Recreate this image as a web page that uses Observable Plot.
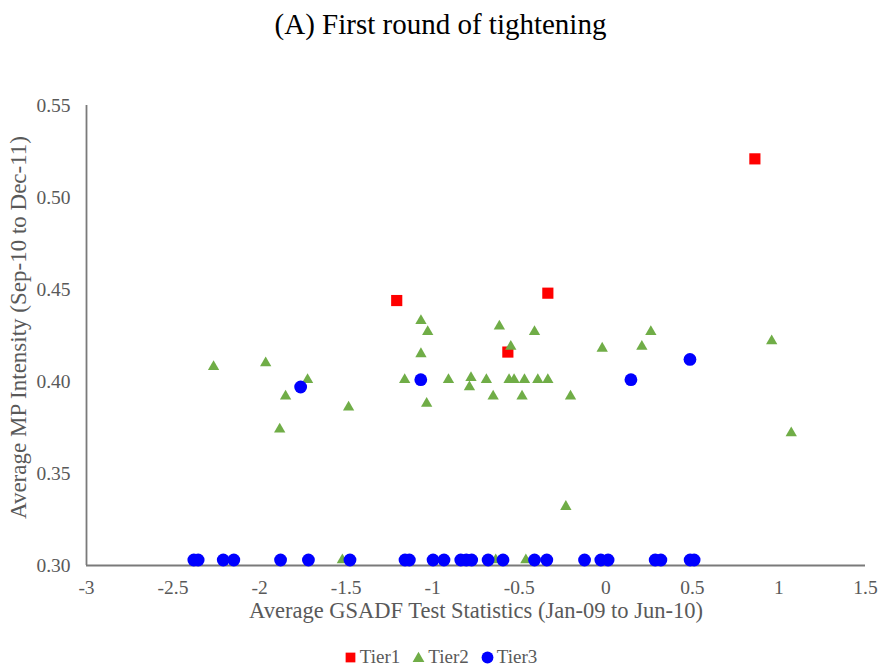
<!DOCTYPE html>
<html>
<head>
<meta charset="utf-8">
<script src="https://cdn.jsdelivr.net/npm/d3@7"></script>
<script src="https://cdn.jsdelivr.net/npm/@observablehq/plot@0.6"></script>
<style>
  body { margin: 0; background: #fff; }
  #wrap { position: relative; width: 881px; height: 671px; font-family: "Liberation Serif", "DejaVu Serif", "Noto Serif", serif; }
  #title { position: absolute; top: 2px; left: 0; width: 881px; height: 44px; text-align: center; font-size: 29px; line-height: 44px; color: #000; }
  #chart { position: absolute; top: 60px; left: 0; }
  #legend { position: absolute; top: 644px; left: 0; width: 881px; height: 26px; display: flex; justify-content: center; align-items: center; font-size: 19px; color: #595959; }
  #legend .item { display: flex; align-items: center; margin: 0 6px; }
  #legend svg { margin-right: 3px; }
</style>
</head>
<body>
<div id="wrap">
  <div id="title">(A) First round of tightening</div>
  <div id="chart"></div>
  <div id="legend"></div>
</div>
<script>
// ---- Data ----
const titleText = "(A) First round of tightening";
const xLabel = "Average GSADF Test Statistics (Jan-09 to Jun-10)";
const yLabel = "Average MP Intensity (Sep-10 to Dec-11)";
const xTicks = [-3, -2.5, -2, -1.5, -1, -0.5, 0, 0.5, 1, 1.5];
const yTicks = [0.30, 0.35, 0.40, 0.45, 0.50, 0.55];
const seriesNames = ["Tier1", "Tier2", "Tier3"];
const seriesColors = ["#FF0000", "#70AD47", "#0000FF"];

const tier1X = [-1.208, -0.566, -0.335, 0.861];
const tier1Y = [0.444, 0.416, 0.448, 0.521];

const tier2X = [-2.266, -1.965, -1.850, -1.884, -1.723, -1.486, -1.522,
  -1.068, -1.029, -1.068, -1.162, -1.035, -0.909, -0.779, -0.788, -0.690,
  -0.651, -0.615, -0.549, -0.559, -0.530, -0.470, -0.484, -0.412, -0.393,
  -0.335, -0.204, -0.231, -0.636, -0.462, -0.021, 0.208, 0.260, 0.958, 1.071];
const tier2Y = [0.408, 0.410, 0.392, 0.374, 0.401, 0.386, 0.303,
  0.433, 0.427, 0.415, 0.401, 0.388, 0.401, 0.402, 0.397, 0.401,
  0.392, 0.430, 0.419, 0.401, 0.401, 0.401, 0.392, 0.427, 0.401,
  0.401, 0.392, 0.332, 0.303, 0.303, 0.418, 0.419, 0.427, 0.422, 0.372];

const tier3X = [-1.763, -1.069, 0.145, 0.486,
  -2.380, -2.355, -2.210, -2.149, -1.879, -1.718, -1.478, -1.160, -1.135,
  -0.998, -0.935, -0.838, -0.806, -0.775, -0.680, -0.594, -0.412, -0.341,
  -0.123, -0.029, 0.013, 0.285, 0.318, 0.487, 0.510];
const tier3Y = [0.397, 0.401, 0.401, 0.412,
  0.303, 0.303, 0.303, 0.303, 0.303, 0.303, 0.303, 0.303, 0.303,
  0.303, 0.303, 0.303, 0.303, 0.303, 0.303, 0.303, 0.303, 0.303,
  0.303, 0.303, 0.303, 0.303, 0.303, 0.303, 0.303];

// ---- Build tables ----
const toRows = (xs, ys) => xs.map((x, i) => ({x, y: ys[i]}));
const tier1 = toRows(tier1X, tier1Y);
const tier2 = toRows(tier2X, tier2Y);
const tier3 = toRows(tier3X, tier3Y);

document.getElementById("title").textContent = titleText;

const axisColor = "#595959";
const lineColor = "#7a7a7a";
const serif = "'Liberation Serif', 'DejaVu Serif', 'Noto Serif', serif";

const chart = Plot.plot({
  width: 881,
  height: 570,
  marginTop: 45,
  marginBottom: 65,
  marginLeft: 86,
  marginRight: 16,
  style: { fontFamily: serif, background: "white" },
  x: { domain: [-3, 1.5] },
  y: { domain: [0.30, 0.55] },
  marks: [
    Plot.axisX({ ticks: xTicks, tickFormat: d => String(d), tickSize: 0, tickPadding: 15, fontSize: 19.5, color: axisColor, label: null }),
    Plot.axisY({ ticks: yTicks, tickFormat: d => d.toFixed(2), tickSize: 0, tickPadding: 16, fontSize: 19.5, color: axisColor, label: null }),
    Plot.ruleX([-3], { stroke: lineColor, strokeWidth: 1.8 }),
    Plot.ruleY([0.30], { stroke: lineColor, strokeWidth: 1.8 }),
    Plot.text([xLabel], { text: d => d, frameAnchor: "bottom", textAnchor: "middle", dy: 52, fontSize: 22.5, fill: axisColor }),
    Plot.text([yLabel], { text: d => d, frameAnchor: "left", textAnchor: "middle", rotate: -90, dx: -68, dy: -8, fontSize: 23, fill: axisColor }),
    Plot.dot(tier1, { x: "x", y: "y", symbol: "square", r: 6.3, fill: seriesColors[0], stroke: "none" }),
    Plot.dot(tier2, { x: "x", y: "y", symbol: "triangle", r: 4.2, fill: seriesColors[1], stroke: "none" }),
    Plot.dot(tier3, { x: "x", y: "y", symbol: "circle", r: 6.4, fill: seriesColors[2], stroke: "none" })
  ]
});
document.getElementById("chart").appendChild(chart);

// ---- Legend ----
const legend = document.getElementById("legend");
seriesNames.forEach((name, i) => {
  const item = document.createElement("div");
  item.className = "item";
  const svg = d3.create("svg").attr("width", 13).attr("height", 13);
  const sym = [d3.symbolSquare, d3.symbolTriangle, d3.symbolCircle][i];
  const size = [95, 60, 110][i];
  svg.append("path")
    .attr("transform", i === 1 ? "translate(6.5,7.5)" : "translate(6.5,6.5)")
    .attr("d", d3.symbol(sym, size)())
    .attr("fill", seriesColors[i]);
  item.appendChild(svg.node());
  const span = document.createElement("span");
  span.textContent = name;
  item.appendChild(span);
  legend.appendChild(item);
});
</script>
</body>
</html>
